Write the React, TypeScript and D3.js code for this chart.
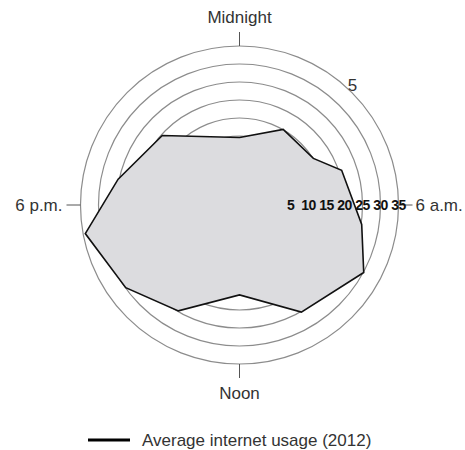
import React from 'react';
import * as d3 from 'd3';

// values (hour of day, average usage)
const hours = [0, 2, 3.85, 4.75, 6.6, 7.9, 10, 12, 14, 15.6, 17.3, 18.8, 20.8];
const usage = [9.6, 15.1, 15.1, 20.8, 25.2, 30.1, 25.2, 15.8, 24.8, 29.9, 34.4, 25.3, 19.7];

const ringValues = [5, 10, 15, 20, 25, 30, 35];
const hourLabels = ['Midnight', '6 a.m.', 'Noon', '6 p.m.'];
const hourLabelHours = [0, 6, 12, 18];
const seriesName = 'Average internet usage (2012)';

const width = 465;
const height = 450;
const cx = 239.5;
const cy = 205;
const font = '"Liberation Sans", Arial, Helvetica, sans-serif';

const App = () => {
  const r = d3.scaleLinear().domain([0, 35]).range([33, 159]);
  const a = d3.scaleLinear().domain([0, 24]).range([0, 2 * Math.PI]);
  const outer = r(35);
  const tickLen = 14;

  const points = hours.map((h, i) => ({ hour: h, value: usage[i] }));

  const area = d3.lineRadial<{ hour: number; value: number }>()
    .angle(d => a(d.hour))
    .radius(d => r(d.value))
    .curve(d3.curveLinearClosed);

  // point on the circle, angle measured clockwise from top
  const polar = (hour: number, radius: number) => [
    Math.sin(a(hour)) * radius,
    -Math.cos(a(hour)) * radius,
  ];

  const labelPos = (hour: number) => {
    const [x, y] = polar(hour, outer + tickLen);
    if (hour === 0) return { x, y: y - 9, anchor: 'middle' };
    if (hour === 12) return { x, y: y + 21, anchor: 'middle' };
    if (hour === 6) return { x: x + 3, y: y + 6, anchor: 'start' };
    return { x: x - 4, y: y + 6, anchor: 'end' };
  };

  const [fx, fy] = polar(2.88, outer + 6);

  return (
    <div style={{ position: 'absolute', left: 0, top: 0 }}>
      <svg width={width} height={height} style={{ display: 'block' }}>
        <g transform={`translate(${cx},${cy})`}>
          {ringValues.map(v => (
            <circle key={v} r={r(v)} fill="none" stroke="#8c8c8c" strokeWidth={1.2} />
          ))}

          <path
            d={area(points) || ''}
            fill="#dcdcdf"
            stroke="#111"
            strokeWidth={1.6}
            strokeLinejoin="miter"
          />

          {hourLabelHours.map((h, i) => {
            const [x1, y1] = polar(h, outer);
            const [x2, y2] = polar(h, outer + tickLen);
            const p = labelPos(h);
            return (
              <g key={h}>
                <line x1={x1} y1={y1} x2={x2} y2={y2} stroke="#555" strokeWidth={1} />
                <text
                  x={p.x}
                  y={p.y}
                  textAnchor={p.anchor}
                  fontFamily={font}
                  fontSize={17}
                  fill="#333"
                >
                  {hourLabels[i]}
                </text>
              </g>
            );
          })}

          <text x={fx} y={fy + 6} textAnchor="middle" fontFamily={font} fontSize={17} fill="#333">
            5
          </text>

          {ringValues.map(v => (
            <text
              key={v}
              x={r(v)}
              y={5}
              textAnchor="middle"
              fontFamily={font}
              fontSize={14}
              fontWeight="bold"
              letterSpacing={-0.6}
              fill="#111"
            >
              {v}
            </text>
          ))}
        </g>

        {/* legend */}
        <line x1={88} y1={440} x2={130} y2={440} stroke="#000" strokeWidth={3.2} />
        <text x={142} y={446} fontFamily={font} fontSize={17} fill="#333">
          {seriesName}
        </text>
      </svg>
    </div>
  );
};

export default App;
